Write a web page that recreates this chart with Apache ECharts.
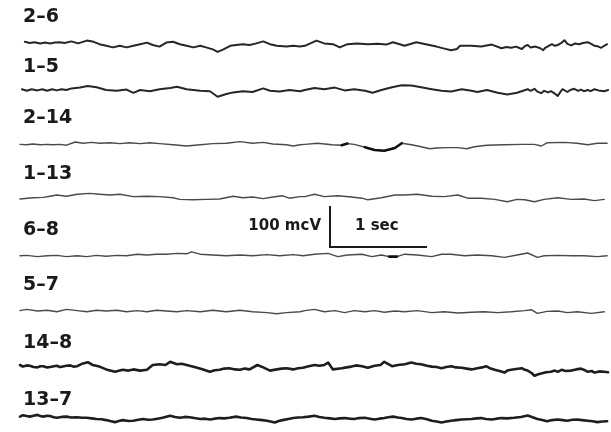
<!DOCTYPE html>
<html><head><meta charset="utf-8">
<script src="https://cdn.jsdelivr.net/npm/echarts@6/dist/echarts.min.js"></script>
<style>html,body{margin:0;padding:0;background:#fff}#c{width:611px;height:432px}</style>
</head><body><div id="c"></div><script>
// ---- data (time in s, amplitude in mcV) ----
const channels = ['2–6','1–5','2–14','1–13','6–8','5–7','14–8','13–7'];

const ch2_6 = [[0.05,8],[0.10,5],[0.15,7],[0.21,4],[0.26,6],[0.31,4],[0.36,6],[0.41,7],[0.46,5],[0.53,9],[0.60,4],[0.69,11],[0.76,8],[0.82,2],[0.89,-2],[0.96,-6],[1.03,-2],[1.10,-6],[1.17,-2],[1.24,2],[1.31,6],[1.37,0],[1.44,-4],[1.51,6],[1.58,8],[1.65,2],[1.72,-2],[1.79,-6],[1.86,-2],[1.92,-6],[1.99,-11],[2.04,-17],[2.10,-11],[2.17,-2],[2.23,0],[2.30,2],[2.37,0],[2.44,4],[2.51,9],[2.58,2],[2.65,-2],[2.75,-4],[2.82,-2],[2.89,-4],[2.94,-2],[3.06,11],[3.14,4],[3.23,2],[3.30,-6],[3.38,2],[3.48,4],[3.59,2],[3.69,3],[3.78,1],[3.85,7],[3.97,-2],[4.09,7],[4.20,1],[4.30,-4],[4.38,-9],[4.45,-13],[4.51,-10],[4.54,-2],[4.66,-2],[4.76,-4],[4.87,1],[4.97,-8],[5.02,-5],[5.07,-7],[5.12,-4],[5.18,-10],[5.21,-3],[5.24,0],[5.27,-6],[5.29,-9],[5.32,-4],[5.34,-2],[5.37,-8],[5.40,-13],[5.42,-7],[5.44,-4],[5.49,2],[5.52,-2],[5.55,0],[5.58,4],[5.62,12],[5.65,3],[5.69,-1],[5.73,4],[5.77,2],[5.81,5],[5.86,7],[5.90,2],[5.93,-2],[5.97,-4],[6.00,-7],[6.03,-2],[6.06,2]];

const ch1_5 = [[0.02,2],[0.07,-2],[0.12,2],[0.18,-1],[0.23,2],[0.28,-2],[0.33,2],[0.38,-1],[0.43,2],[0.48,0],[0.53,4],[0.62,6],[0.70,10],[0.79,7],[0.89,0],[1.00,-2],[1.10,1],[1.17,-7],[1.24,0],[1.34,-3],[1.44,2],[1.55,5],[1.62,8],[1.72,2],[1.86,-2],[1.96,-3],[2.04,-17],[2.13,-10],[2.20,-6],[2.30,-3],[2.40,-5],[2.51,4],[2.58,-2],[2.68,-4],[2.78,0],[2.89,-3],[2.94,0],[3.04,5],[3.14,2],[3.25,6],[3.35,-1],[3.45,2],[3.56,-2],[3.64,-7],[3.73,0],[3.84,7],[3.94,12],[4.04,11],[4.14,7],[4.25,2],[4.35,-2],[4.45,-4],[4.56,2],[4.66,-2],[4.72,-5],[4.82,0],[4.93,-7],[5.03,-11],[5.13,-7],[5.24,2],[5.27,-2],[5.31,3],[5.34,-4],[5.38,-8],[5.41,-2],[5.45,-6],[5.48,-3],[5.52,-9],[5.55,-15],[5.58,-4],[5.60,2],[5.62,-3],[5.65,-5],[5.68,0],[5.72,3],[5.76,-2],[5.79,1],[5.82,-3],[5.86,0],[5.89,-3],[5.93,2],[5.97,-1],[6.03,-3],[6.07,0]];

const ch2_14 = [[0.00,-1],[0.07,-2],[0.13,0],[0.21,-2],[0.28,-1],[0.34,-2],[0.41,-1],[0.48,-3],[0.57,5],[0.65,2],[0.74,4],[0.82,2],[0.93,3],[1.03,1],[1.13,3],[1.24,1],[1.34,3],[1.44,1],[1.58,-2],[1.72,-5],[1.86,-2],[1.99,1],[2.13,2],[2.27,6],[2.40,2],[2.51,4],[2.61,0],[2.75,-2],[2.82,-5],[2.89,-2],[2.94,-1],[3.07,2],[3.22,-2],[3.32,-3],[3.38,1],[3.45,-1],[3.56,-8],[3.66,-15],[3.76,-17],[3.87,-10],[3.94,2],[4.04,-2],[4.14,-7],[4.23,-12],[4.30,-10],[4.41,-9],[4.52,-9],[4.61,-12],[4.69,-7],[4.82,-3],[5.00,-2],[5.18,-1],[5.31,-1],[5.38,-5],[5.44,3],[5.62,4],[5.75,2],[5.86,-2],[5.96,2],[6.06,2]];

const ch1_13 = [[0.00,-5],[0.13,-2],[0.24,-1],[0.31,2],[0.38,5],[0.48,2],[0.59,7],[0.72,9],[0.82,7],[0.93,5],[1.03,7],[1.17,1],[1.31,2],[1.44,1],[1.58,-2],[1.65,-6],[1.79,-7],[1.92,-6],[2.06,-5],[2.20,2],[2.30,-2],[2.40,0],[2.51,-4],[2.61,0],[2.71,3],[2.78,-3],[2.89,1],[2.94,1],[3.04,7],[3.14,1],[3.28,3],[3.42,0],[3.53,-3],[3.59,-7],[3.73,-2],[3.87,5],[3.97,5],[4.10,7],[4.25,2],[4.38,1],[4.52,5],[4.62,-3],[4.76,-3],[4.90,-6],[5.03,-12],[5.13,-6],[5.21,-7],[5.31,-12],[5.41,-6],[5.55,-2],[5.69,-6],[5.82,-5],[5.93,-9],[6.03,-6]];

const ch6_8 = [[0.00,-2],[0.07,-1],[0.18,-4],[0.28,-2],[0.38,-1],[0.48,-4],[0.59,-2],[0.69,-4],[0.79,-1],[0.89,-3],[1.00,-1],[1.10,-2],[1.21,2],[1.31,0],[1.41,2],[1.51,2],[1.62,4],[1.72,3],[1.77,8],[1.86,2],[1.99,0],[2.13,-2],[2.27,0],[2.40,-2],[2.55,1],[2.68,-2],[2.82,1],[2.92,-2],[3.04,2],[3.18,4],[3.28,-4],[3.38,0],[3.53,2],[3.63,-4],[3.73,0],[3.81,-4],[3.89,-4],[3.97,2],[4.10,0],[4.25,-4],[4.35,2],[4.45,2],[4.59,-2],[4.72,0],[4.87,-2],[5.00,-6],[5.13,0],[5.24,5],[5.34,-6],[5.41,-2],[5.55,-1],[5.69,-2],[5.82,-2],[5.96,-4],[6.06,-2]];

const ch5_7 = [[0.00,1],[0.07,4],[0.18,0],[0.28,2],[0.38,-2],[0.48,4],[0.59,1],[0.69,-2],[0.79,2],[0.89,0],[1.00,2],[1.10,-2],[1.21,1],[1.31,-2],[1.41,2],[1.51,0],[1.62,-2],[1.72,1],[1.86,-2],[1.99,2],[2.13,-2],[2.27,2],[2.40,-2],[2.55,-4],[2.65,-7],[2.75,-4],[2.89,-2],[2.94,1],[3.04,4],[3.14,-2],[3.25,1],[3.35,-4],[3.45,1],[3.56,-2],[3.66,1],[3.76,-3],[3.87,0],[3.97,-2],[4.10,1],[4.25,-4],[4.38,-2],[4.52,-5],[4.66,-3],[4.79,-2],[4.93,-4],[5.07,-2],[5.21,1],[5.28,3],[5.34,-6],[5.44,-1],[5.55,0],[5.65,-4],[5.75,-2],[5.90,-6],[6.03,-2]];

const ch14_8 = [[0.00,5],[0.03,1],[0.07,4],[0.10,3],[0.14,0],[0.18,-1],[0.21,2],[0.24,2],[0.28,-1],[0.31,0],[0.35,2],[0.38,3],[0.41,0],[0.44,1],[0.48,3],[0.52,4],[0.55,1],[0.59,2],[0.65,9],[0.70,12],[0.75,5],[0.82,1],[0.89,-6],[0.98,-12],[1.06,-7],[1.12,-9],[1.17,-6],[1.24,-9],[1.31,-7],[1.37,5],[1.44,7],[1.50,5],[1.55,13],[1.62,7],[1.67,8],[1.72,5],[1.82,-1],[1.89,-6],[1.96,-12],[2.01,-8],[2.06,-7],[2.11,-4],[2.16,-3],[2.22,-6],[2.27,-7],[2.32,-4],[2.37,-6],[2.45,5],[2.51,-1],[2.58,-9],[2.65,-6],[2.70,-4],[2.75,-3],[2.82,-6],[2.87,-3],[2.92,-2],[2.98,2],[3.04,5],[3.09,3],[3.14,5],[3.18,11],[3.23,-6],[3.32,-3],[3.37,-1],[3.42,1],[3.47,4],[3.53,2],[3.59,-2],[3.66,3],[3.72,5],[3.76,13],[3.84,2],[3.90,5],[3.97,7],[4.04,11],[4.09,8],[4.14,7],[4.20,3],[4.25,1],[4.30,0],[4.35,-3],[4.40,0],[4.45,2],[4.50,-1],[4.56,-2],[4.61,-4],[4.66,-6],[4.72,-3],[4.77,-1],[4.81,2],[4.85,-3],[4.90,-7],[4.95,-10],[5.00,-14],[5.03,-9],[5.07,-7],[5.12,-5],[5.18,-3],[5.21,-7],[5.24,-9],[5.28,-15],[5.31,-22],[5.35,-18],[5.38,-16],[5.43,-13],[5.48,-12],[5.52,-9],[5.55,-12],[5.59,-7],[5.63,-10],[5.69,-9],[5.74,-6],[5.79,-4],[5.83,-8],[5.86,-12],[5.90,-10],[5.93,-14],[5.98,-11],[6.03,-12],[6.07,-13]];

const ch13_7 = [[0.00,3],[0.03,8],[0.07,5],[0.10,3],[0.14,6],[0.18,9],[0.21,5],[0.24,3],[0.28,6],[0.31,5],[0.35,1],[0.38,-1],[0.43,2],[0.48,3],[0.53,0],[0.59,1],[0.64,-1],[0.69,-1],[0.74,-3],[0.79,-5],[0.84,-6],[0.89,-9],[0.94,-13],[0.98,-16],[1.02,-12],[1.06,-9],[1.12,-12],[1.17,-11],[1.22,-8],[1.27,-5],[1.32,-8],[1.37,-7],[1.42,-4],[1.47,-1],[1.55,6],[1.60,2],[1.65,-1],[1.70,2],[1.75,1],[1.80,-2],[1.86,-5],[1.91,-4],[1.96,-7],[2.01,-4],[2.06,-2],[2.11,-3],[2.16,-1],[2.23,3],[2.28,0],[2.34,-2],[2.39,-5],[2.44,-7],[2.50,-9],[2.55,-11],[2.63,-17],[2.67,-12],[2.71,-9],[2.77,-5],[2.82,-2],[2.87,0],[2.92,1],[2.98,3],[3.04,6],[3.09,2],[3.14,-1],[3.20,-3],[3.25,-5],[3.30,-3],[3.35,-2],[3.40,-4],[3.45,-5],[3.50,-2],[3.56,-1],[3.61,-4],[3.66,-7],[3.71,-4],[3.76,-2],[3.80,1],[3.85,3],[3.90,0],[3.94,-2],[3.99,-5],[4.04,-7],[4.09,-4],[4.14,-2],[4.20,-6],[4.25,-11],[4.30,-14],[4.35,-17],[4.40,-14],[4.45,-11],[4.50,-9],[4.56,-7],[4.61,-6],[4.66,-5],[4.71,-3],[4.76,-2],[4.81,-5],[4.87,-7],[4.92,-4],[4.97,-2],[5.03,-3],[5.10,-1],[5.17,2],[5.24,7],[5.29,1],[5.34,-5],[5.39,-9],[5.44,-13],[5.49,-9],[5.55,-7],[5.60,-9],[5.65,-11],[5.70,-8],[5.75,-7],[5.80,-9],[5.86,-11],[5.91,-13],[5.96,-16],[6.01,-14],[6.06,-13]];

const scaleBar = [[0,100],[0,0],[1,0]];          // 100 mcV, 1 sec
const scaleLabels = ['100 mcV', '1 sec'];

// ---- layout / style ----
const traces = [ch2_6, ch1_5, ch2_14, ch1_13, ch6_8, ch5_7, ch14_8, ch13_7];
const baselines = [45, 90, 144, 197, 255, 311, 367, 423];
const labelY = [19, 69, 119.5, 175.5, 231.5, 286.5, 345, 401.5];
const lineW = [2, 2, 1.4, 1.4, 1.4, 1.4, 2.6, 2.6];
const lineC = ['#262626','#262626','#4a4a4a','#4a4a4a','#4a4a4a','#4a4a4a','#1e1e1e','#1e1e1e'];
// darker (ink-heavy) stretches: [trace index, from s, to s]
const darkRanges = [[2, 3.32, 3.40], [2, 3.50, 3.95], [2, 4.20, 4.26], [4, 3.78, 3.92]];
const PX_PER_SEC = 97, PX_PER_100MCV = 40, LEFT = 20;

const grid = [], xAxis = [], yAxis = [], series = [], graphic = [];
traces.forEach((d, i) => {
  grid.push({left: LEFT, top: baselines[i] - PX_PER_100MCV/2, width: PX_PER_SEC*6.1, height: PX_PER_100MCV});
  xAxis.push({type:'value', gridIndex:i, min:0, max:6.1, show:false});
  yAxis.push({type:'value', gridIndex:i, min:-50, max:50, show:false});
  series.push({type:'line', xAxisIndex:i, yAxisIndex:i, data:d, showSymbol:false, silent:true,
    lineStyle:{width:lineW[i], color:lineC[i], join:'round', cap:'round'}});
  graphic.push({type:'text', left:23, top: labelY[i] - 11,
    style:{text: channels[i], font:'bold 19px "DejaVu Sans"', fill:'#1a1a1a'}});
});
darkRanges.forEach(([i, a, b]) => {
  series.push({type:'line', xAxisIndex:i, yAxisIndex:i, showSymbol:false, silent:true,
    data: traces[i].filter(p => p[0] >= a && p[0] <= b),
    lineStyle:{width:2.6, color:'#111', join:'round', cap:'round'}});
});
// scale bar grid
const sb = traces.length;
grid.push({left:330, top:207, width:PX_PER_SEC - 1, height:PX_PER_100MCV});
xAxis.push({type:'value', gridIndex:sb, min:0, max:1, show:false});
yAxis.push({type:'value', gridIndex:sb, min:0, max:100, show:false});
series.push({type:'line', xAxisIndex:sb, yAxisIndex:sb, data:scaleBar, showSymbol:false, silent:true, clip:false,
  lineStyle:{width:2, color:'#1a1a1a', join:'miter', cap:'square'}});
graphic.push({type:'text', right: 611-321, top: 219, style:{text: scaleLabels[0], font:'bold 15px "DejaVu Sans"', fill:'#1a1a1a'}});
graphic.push({type:'text', left: 355, top: 219, style:{text: scaleLabels[1], font:'bold 15px "DejaVu Sans"', fill:'#1a1a1a'}});

const chart = echarts.init(document.getElementById('c'), null, {renderer:'canvas'});
chart.setOption({animation:false, backgroundColor:'#fff', grid, xAxis, yAxis, series, graphic});
</script></body></html>
